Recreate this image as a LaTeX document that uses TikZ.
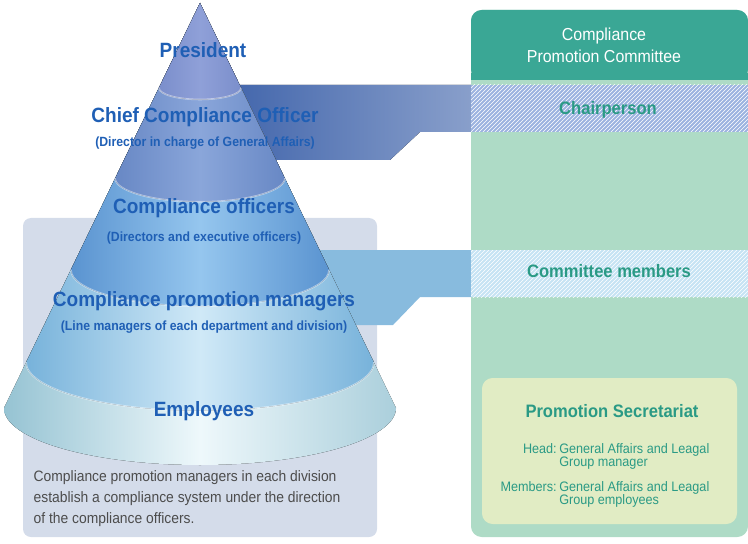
\documentclass[tikz,border=0pt]{standalone}
\usepackage{fontspec}
\setmainfont{Liberation Sans}[FakeStretch=0.92]
\usetikzlibrary{patterns}
\definecolor{lblue}{HTML}{1F5FB5}
\definecolor{teal}{HTML}{2A9A85}
\definecolor{headteal}{HTML}{3AA795}
\definecolor{bodygreen}{HTML}{AEDBC6}
\definecolor{panelgray}{HTML}{D4DCEA}
\definecolor{secyellow}{HTML}{E1ECC4}
\definecolor{presA}{HTML}{2C4A9A}\definecolor{presB}{HTML}{8FA0D8}
\definecolor{ccoA}{HTML}{3A5FA8}\definecolor{ccoB}{HTML}{8AA6DA}
\definecolor{offA}{HTML}{3A78C0}\definecolor{offB}{HTML}{95C6EE}
\definecolor{mgrA}{HTML}{6AAAD6}\definecolor{mgrB}{HTML}{D0E9F7}
\definecolor{empA}{HTML}{94C2D2}\definecolor{empB}{HTML}{EEF8FB}
\tikzset{
  level/.style={text=lblue,font=\bfseries\fontsize{15.5}{18}\selectfont},
  sub/.style={text=lblue,font=\bfseries\fontsize{10}{12}\selectfont},
  role/.style={text=teal,font=\bfseries\fontsize{13.5}{15}\selectfont},
  info/.style={text=teal,font=\fontsize{10.3}{12}\selectfont,anchor=base west,inner sep=0pt},
  bandline/.style={white,opacity=0.45,line width=1.2pt}
}
\begin{document}
\begin{tikzpicture}[x=0.75pt,y=0.75pt]
\useasboundingbox (0,0) rectangle (748,543);
% panels
\fill[panelgray,rounded corners=6] (23,6) rectangle (377,325);
\fill[bodygreen,rounded corners=8] (471,6) rectangle (748,533);
\fill[headteal,rounded corners=8] (471,463) -- (471,533) -- (748,533) -- (748,463) -- cycle;
\fill[headteal] (471,463) rectangle (748,470);
\fill[secyellow,rounded corners=8] (482,19) rectangle (737,165);
% connector bands
\fill[left color=ccoA,right color=ccoA!60!white]
  (200,458) -- (471,458) -- (471,411) -- (420,411) -- (390,383) -- (200,383) -- cycle;
\fill[ccoB!85!white] (471,458) rectangle (748,411);
\fill[pattern=north east lines,pattern color=white] (471,458) rectangle (748,411);
\fill[mgrA!80!white]
  (200,293) -- (471,293) -- (471,246) -- (420,246) -- (393,218) -- (200,218) -- cycle;
\fill[mgrB!90!mgrA] (471,293) rectangle (748,246);
\fill[pattern=north east lines,pattern color=white] (471,293) rectangle (748,246);
% cone
\begin{scope}
  \clip (4,135) -- (200,540) -- (396,135) arc[start angle=0,end angle=-180,x radius=196,y radius=57] -- cycle;
  \fill[left color=empA,right color=empA!80!white,middle color=empB] (0,60) rectangle (400,545);
  \foreach \yb/\w/\cl/\cm in {181/174/mgrA/mgrB, 273/129/offA/offB,
                               365/85/ccoA/ccoB, 455/41/presA/presB} {
    \fill[left color=\cl,right color=\cl,middle color=\cm]
      (0,545) -- (0,\yb) -- (200-\w,\yb) arc[start angle=180,end angle=360,x radius=\w,y radius=0.28*\w] -- (400,\yb) -- (400,545) -- cycle;
    \draw[bandline] (200-\w,\yb) arc[start angle=180,end angle=360,x radius=\w,y radius=0.28*\w];
  }
\end{scope}
% labels
\node[level] (pres) at (203,493) {President};
\node[level] (cco) at (205,426) {Chief Compliance Officer};
\node[sub] (ccosub) at (205,400) {(Director in charge of General Affairs)};
\node[level] (off) at (204,335) {Compliance officers};
\node[sub] (offsub) at (204,305) {(Directors and executive officers)};
\node[level] (mgr) at (204,242) {Compliance promotion managers};
\node[sub] (mgrsub) at (204,216) {(Line managers of each department and division)};
\node[level] (emp) at (204,132) {Employees};
\node[anchor=north west,text=black!70,align=left,font=\fontsize{11.3}{15.8}\selectfont] (note) at (29,77)
  {Compliance promotion managers in each division\\establish a compliance system under the direction\\of the compliance officers.};
\node[text=white,align=center,font=\fontsize{13}{16.5}\selectfont] (comm) at (604,498) {Compliance\\Promotion Committee};
\node[role] (chair) at (608,433) {Chairperson};
\node[role] (memb) at (609,272) {Committee members};
\node[role] (sec) at (612,132) {Promotion Secretariat};
\node[info,anchor=base east] (head) at (557,90) {Head:};
\node[info,align=left] (headtx) at (559,90) {General Affairs and Leagal};
\node[info] (headtx2) at (559,77) {Group manager};
\node[info,anchor=base east] (mem) at (557,52) {Members:};
\node[info] (memtx) at (559,52) {General Affairs and Leagal};
\node[info] (memtx2) at (559,39) {Group employees};
\end{tikzpicture}
\end{document}
